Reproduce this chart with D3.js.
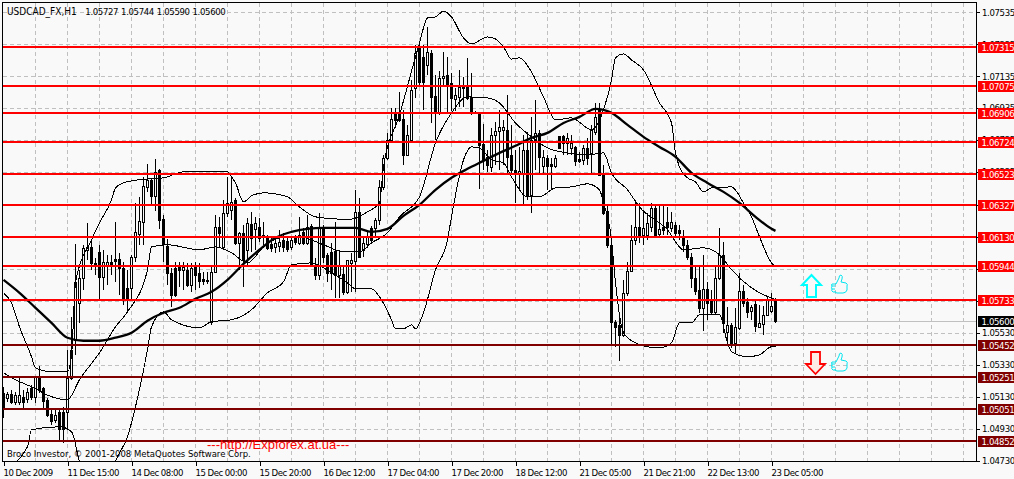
<!DOCTYPE html>
<html lang="en">
<head>
<meta charset="utf-8">
<title>USDCAD_FX,H1</title>
<script src="https://d3js.org/d3.v7.min.js"></script>
<style>
html, body { margin: 0; padding: 0; background: #f9f9f9; overflow: hidden; }
svg { display: block; }
text { font-family: "DejaVu Sans Condensed", "DejaVu Sans", sans-serif; font-size: 10px; fill: #000; }
.num { font-size: 9.5px; letter-spacing: -0.35px; }
.axis text { font-size: 9.5px; letter-spacing: -0.35px; }
.axis.time text { letter-spacing: -0.5px; }
.wick { stroke: #000; stroke-width: 1; shape-rendering: crispEdges; }
.body { stroke: #000; stroke-width: 1; shape-rendering: crispEdges; }
.thin { fill: none; stroke: #000; stroke-width: 1; shape-rendering: crispEdges; }
.thick { fill: none; stroke: #000; stroke-width: 2.3; stroke-linejoin: round; }
.grid { stroke: #c0c0c0; stroke-width: 1; stroke-dasharray: 4 3; shape-rendering: crispEdges; }
.axis path { display: none; }
.axis line { stroke: #000; shape-rendering: crispEdges; }
</style>
</head>
<body>
<script>
// prices are kept in points (1.05727 -> 105727)
var opens = [105154,105123,105148,105098,105098,105129,105116,105185,105129,105254,105185,105110,105023,104985,105035,105035,105035,105248,105485,105716,105873,106048,106066,105966,106035,105879,105954,105973,105991,105991,105935,105810,105810,106004,106148,106223,106441,106485,106385,106548,106241,106073,105904,105935,105941,105923,105923,105829,105941,105904,105866,105860,105598,105910,106191,106066,106279,106298,106360,106091,106154,106048,106210,106179,106191,106141,106129,106085,106066,106073,106110,106104,106066,106123,106091,106160,106091,106198,105954,105891,106191,106016,106035,106041,105891,105898,105785,105966,105979,106285,106048,106085,106185,106185,106235,106441,106623,106735,106904,106904,106866,106641,106735,107060,107310,107254,107204,107279,107010,106910,107123,107141,107091,106991,107004,107060,107079,107004,106910,106898,106710,106629,106566,106766,106791,106798,106798,106641,106548,106529,106529,106673,106391,106735,106779,106573,106623,106585,106573,106760,106760,106716,106685,106691,106616,106610,106685,106654,106785,106929,106516,106291,106079,105598,105579,105516,105779,105916,106110,106191,106141,106141,106191,106310,106148,106191,106223,106185,106204,106173,106135,106079,106004,105873,105798,105685,105804,105735,105660,105873,106016,105535,105579,105466,105560,105791,105723,105666,105710,105566,105585,105641,105666,105727];
var highs = [105191,105160,105173,105160,105248,105173,105185,105204,105254,105323,105191,105123,105060,105060,105048,105066,105423,105629,106085,105923,106079,106216,106110,105998,106079,106048,106016,106016,106223,106029,105973,105923,106016,106341,106379,106504,106585,106498,106616,106554,106266,106116,105935,105973,105973,105973,105966,105966,105973,105966,105910,105910,105954,106266,106254,106360,106504,106504,106373,106160,106204,106248,106285,106254,106248,106223,106141,106129,106123,106173,106154,106123,106129,106141,106254,106185,106266,106210,105998,106279,106204,106029,106091,106223,106048,105941,105985,106029,106423,106373,106123,106173,106198,106248,106485,106641,106779,106935,106935,107035,106923,106829,107110,107329,107348,107329,107441,107298,107141,107166,107285,107254,107154,107060,107173,107129,107248,107154,106916,106904,106835,106673,106810,106848,106923,106860,107016,106829,106673,106691,106766,106785,106879,106985,106798,106673,106641,106623,106641,106760,106766,106779,106766,106698,106660,106704,106748,106829,106966,106966,106579,106329,106110,105610,105641,105860,105973,106204,106360,106341,106298,106279,106341,106335,106329,106329,106316,106285,106223,106204,106173,106110,106029,105954,105954,106016,105848,105798,105954,106185,106098,105691,105591,105685,105904,105829,105748,105704,105735,105704,105698,105754,105779,105744];
var lows = [104998,105098,105085,105079,105079,105060,105091,105110,105091,105154,105060,105004,104954,104966,104848,104841,104923,105235,105391,105591,105798,105985,105923,105891,105735,105798,105829,105891,105848,105766,105704,105660,105735,105973,106079,106079,106410,106329,106291,106179,105973,105829,105691,105754,105816,105798,105816,105785,105798,105810,105829,105835,105579,105910,106066,106048,106254,106235,106079,105923,105816,105941,106035,106048,106098,106079,106048,106035,106029,106035,106035,106035,106048,106079,106079,106079,106079,105941,105860,105860,105966,105848,105798,105748,105748,105766,105773,105785,105785,105998,106004,106060,106091,106123,106204,106423,106610,106735,106810,106848,106579,106641,106735,106998,107079,106923,107141,106841,106735,106891,107079,106904,106916,106916,106941,106941,106985,106891,106904,106429,106548,106535,106535,106579,106548,106579,106516,106516,106341,106423,106329,106360,106279,106548,106516,106529,106423,106423,106560,106685,106641,106641,106641,106573,106591,106579,106579,106529,106766,106516,106266,106060,105454,105441,105354,105504,105760,105910,106079,106091,106079,106110,106160,106123,106123,106141,106141,106160,106123,106110,106035,105985,105810,105766,105654,105541,105610,105641,105641,105860,105529,105466,105435,105404,105548,105691,105623,105610,105535,105560,105516,105635,105654,105590];
var closes = [105060,105148,105098,105141,105141,105098,105160,105129,105254,105173,105104,105016,104979,105016,104929,104929,105248,105423,105848,105873,106060,106066,105966,105954,105879,105973,105973,105960,105979,105935,105748,105735,106004,106160,106229,106448,106485,106385,106535,106235,106085,105904,105766,105766,105923,105941,105829,105935,105891,105854,105854,105854,105910,106191,106154,106279,106341,106348,106091,106154,105985,106216,106123,106216,106123,106129,106060,106060,106091,106098,106066,106054,106110,106098,106141,106091,106191,105954,105891,106185,106004,105904,105904,105891,105954,105785,105985,105985,106285,106004,106091,106129,106110,106235,106441,106623,106735,106866,106860,106860,106641,106766,107048,107279,107098,107098,107285,107004,106910,107123,107135,107079,106998,107016,107066,107066,106998,106910,106904,106704,106610,106579,106766,106791,106816,106816,106629,106548,106529,106541,106673,106391,106735,106779,106629,106629,106573,106573,106623,106685,106716,106748,106716,106604,106604,106685,106623,106798,106879,106516,106279,106079,105598,105566,105516,105779,105916,106110,106191,106141,106185,106216,106310,106141,106179,106173,106191,106223,106154,106154,106079,106004,105873,105791,105685,105804,105716,105660,105873,106016,105591,105579,105466,105566,105791,105716,105660,105691,105573,105591,105641,105735,105698,105600];

var maValues = [105860,105779,105685,105591,105498,105479,105479,105498,105529,105604,105654,105685,105741,105785,105860,105960,106048,106123,106160,106179,106185,106185,106185,106160,106179,106260,106329,106423,106498,106554,106604,106654,106698,106748,106779,106841,106879,106929,106904,106829,106754,106691,106629,106529,106466,106410,106341,106254,106179,106166];
var maBars = d3.range(0, 193, 4).concat([193]);

var upperBars = [0,2,4,7,8,12,16,17,18,22,24,27,28,30,32,36,40,45,50,52,56,57,58,60,62,65,71,74,78,83,86,91,94,95,99,104,106,108,110,112,115,117,121,123,125,127,129,132,135,138,142,147,150,152,153,155,157,160,164,167,168,169,171,173,175,177,182,185,187,189,192,193];
var upperValues = [105779,105716,105566,105379,105310,105285,105285,105385,105841,106110,106216,106360,106435,106466,106479,106491,106498,106535,106535,106535,106535,106504,106466,106348,106385,106404,106379,106316,106254,106241,106235,106285,106341,106566,106891,107341,107498,107504,107541,107504,107373,107335,107379,107366,107316,107241,107248,107160,107004,106860,106873,106798,106923,107110,107248,107273,107235,107173,106966,106841,106654,106566,106498,106473,106410,106435,106441,106341,106254,106129,105966,105941];

var midBars = [0,3,7,12,16,19,24,28,31,36,37,41,49,53,57,61,65,69,74,80,85,89,92,96,99,104,108,112,116,121,124,128,132,136,141,146,150,152,156,159,166,170,175,179,182,187,193];
var midValues = [105279,105235,105191,105129,105110,105235,105404,105566,105660,105923,106066,106079,106048,106066,106029,105966,106066,106123,106129,106079,106035,106035,106091,106154,106254,106379,106716,106904,107004,106998,106966,106841,106754,106685,106654,106641,106654,106529,106423,106316,106173,106048,106060,106016,105923,105810,105735];

var lowerBars = [0,6,7,14,17,19,23,26,28,31,33,36,37,40,42,49,52,57,62,66,70,72,77,82,86,88,92,94,97,98,100,102,103,105,108,111,112,115,117,119,122,125,127,131,134,138,142,146,149,150,152,153,155,158,161,164,167,169,172,174,179,181,182,186,189,192,193];
var lowerValues = [104673,104816,104923,104941,104910,104723,104548,104548,104723,104879,105066,105423,105566,105660,105610,105560,105598,105610,105673,105779,105848,105954,105966,105904,105841,105804,105804,105754,105610,105554,105554,105579,105554,105654,105923,106110,106254,106610,106691,106685,106610,106591,106504,106379,106379,106435,106441,106460,106423,106341,106110,105841,105529,105466,105441,105435,105466,105591,105591,105641,105641,105466,105410,105379,105391,105441,105441];

var redLevels = [107315,107075,106906,106724,106523,106327,106130,105944,105733];
var darkLevels = [105452,105251,105051,104852];
var lastPrice = 105600;

var priceTicks = [107535,107335,107135,106935,106735,106535,106330,106130,105930,105730,105530,105330,105130,104930,104730];
var timeBars = [0,16,32,48,64,80,96,112,128,144,160,176,192];
var timeLabels = ["10 Dec 2009","11 Dec 15:00","14 Dec 08:00","15 Dec 00:00","15 Dec 20:00","16 Dec 12:00","17 Dec 04:00","17 Dec 20:00","18 Dec 12:00","21 Dec 05:00","21 Dec 21:00","22 Dec 13:00","23 Dec 05:00"];
var symbolName = "USDCAD_FX,H1";
var lastBarOhlc = "1.05727 1.05744 1.05590 1.05600";

var width = 1014, height = 479;
var left = 2.5, right = 976.5, top_ = 2.5, bottom = 461.5;

var svg = d3.select("body").append("svg")
    .attr("width", width)
    .attr("height", height);

var x = d3.scaleLinear().domain([0, 193]).range([3.5, 775.5]);
var y = d3.scaleLinear().domain([104730, 107535]).range([460.5, 12]);
var fmt = function(p) { return (p / 100000).toFixed(5); };

svg.append("defs").append("clipPath").attr("id", "plot")
    .append("rect").attr("x", left).attr("y", top_).attr("width", right - left).attr("height", bottom - top_);

var plot = svg.append("g").attr("clip-path", "url(#plot)");

// grid
var gridX = d3.range(8, 241, 8);
plot.selectAll(".gx").data(gridX).enter().append("line")
    .attr("class", "grid")
    .attr("x1", function(d) { return x(d); }).attr("x2", function(d) { return x(d); })
    .attr("y1", top_).attr("y2", bottom);
plot.selectAll(".gy").data(priceTicks).enter().append("line")
    .attr("class", "grid")
    .attr("x1", left).attr("x2", right)
    .attr("y1", function(d) { return Math.round(y(d)) + 0.5; })
    .attr("y2", function(d) { return Math.round(y(d)) + 0.5; });

// last price line
plot.append("line")
    .attr("x1", left).attr("x2", right)
    .attr("y1", Math.round(y(lastPrice)) + 0.5).attr("y2", Math.round(y(lastPrice)) + 0.5)
    .attr("stroke", "#c0c0c0").attr("shape-rendering", "crispEdges");

// candles
var idx = d3.range(opens.length);
plot.selectAll(".wick").data(idx).enter().append("line")
    .attr("class", "wick")
    .attr("x1", function(i) { return x(i); }).attr("x2", function(i) { return x(i); })
    .attr("y1", function(i) { return y(highs[i]); })
    .attr("y2", function(i) { return y(lows[i]); });
plot.selectAll(".body").data(idx).enter().append("rect")
    .attr("class", "body")
    .attr("x", function(i) { return x(i) - 1; })
    .attr("width", 2)
    .attr("y", function(i) { return Math.round(y(Math.max(opens[i], closes[i]))) + 0.5; })
    .attr("height", function(i) { return Math.max(1, Math.round(Math.abs(y(opens[i]) - y(closes[i])))); })
    .attr("fill", function(i) { return closes[i] >= opens[i] ? "#f9f9f9" : "#000"; });

// bands and moving average
function drawLine(bars, vals, cls) {
    var line = d3.line()
        .curve(d3.curveMonotoneX)
        .x(function(d) { return x(d); })
        .y(function(d, i) { return y(vals[i]); });
    plot.append("path").attr("class", cls).attr("d", line(bars));
}
drawLine(upperBars, upperValues, "thin");
drawLine(midBars, midValues, "thin");
drawLine(lowerBars, lowerValues, "thin");
drawLine(maBars, maValues, "thick");

// level lines
function drawLevels(levels, color) {
    plot.selectAll(".lv" + color.slice(1)).data(levels).enter().append("line")
        .attr("x1", left).attr("x2", right)
        .attr("y1", function(d) { return y(d); }).attr("y2", function(d) { return y(d); })
        .attr("stroke", color).attr("stroke-width", 2).attr("shape-rendering", "crispEdges");
}
drawLevels(redLevels, "#ff0000");
drawLevels(darkLevels, "#800000");

// frame
svg.append("rect")
    .attr("x", left).attr("y", top_).attr("width", right - left).attr("height", bottom - top_)
    .attr("fill", "none").attr("stroke", "#000").attr("shape-rendering", "crispEdges");

// axes
var axisR = d3.axisRight(y).tickValues(priceTicks).tickFormat(fmt).tickSize(3).tickPadding(2.5);
svg.append("g").attr("class", "axis").attr("transform", "translate(" + right + ",0)").call(axisR);

var axisB = d3.axisBottom(x).tickValues(timeBars)
    .tickFormat(function(d, i) { return timeLabels[i]; }).tickSize(4).tickPadding(1);
var gb = svg.append("g").attr("class", "axis time").attr("transform", "translate(0," + bottom + ")").call(axisB);
gb.selectAll("text").attr("text-anchor", "start").attr("dx", "-0.5").attr("dy", "0.95em");

// price tags
function drawTags(levels, color) {
    var g = svg.append("g");
    g.selectAll("rect").data(levels).enter().append("rect")
        .attr("x", 978).attr("width", 36).attr("height", 11)
        .attr("y", function(d) { return Math.round(y(d)) - 5; })
        .attr("fill", color);
    g.selectAll("text").data(levels).enter().append("text")
        .attr("class", "num")
        .attr("x", 981.5).attr("y", function(d) { return Math.round(y(d)) + 4; })
        .style("fill", "#fff")
        .text(fmt);
}
drawTags(redLevels, "#ff0000");
drawTags(darkLevels, "#800000");
drawTags([lastPrice], "#000");

// captions
svg.append("text").attr("x", 7).attr("y", 14.5).text(symbolName);
svg.append("text").attr("class", "num").attr("x", 85.3).attr("y", 14.5)
    .style("word-spacing", "0.5px").text(lastBarOhlc);
svg.append("text").attr("x", 7).attr("y", 457).style("font-size", "9.45px")
    .text("Broco Investor, © 2001-2008 MetaQuotes Software Corp.");
svg.append("text").attr("x", 207).attr("y", 449)
    .style("font-family", "'Liberation Sans', sans-serif").style("font-size", "13px").style("fill", "#ff0000")
    .text("---http://Expforex.at.ua---");

// arrows and thumbs
var arrow = "M9.5 0L19 10L14 10L14 22L5 22L5 10L0 10Z";
var thumb = "M5 9L8 3Q8 0 10 0Q12 1 11 4L10 7L15 8Q17 9 16 11L16 15Q15 18 12 18L6 18Q4 18 4 16M5 9L1 9Q0 10 1 11L4 11M1 11Q0 13 1 14L4 14M1 14Q0 16 2 17L4 17";
svg.append("path").attr("d", arrow).attr("transform", "translate(802,275)")
    .attr("fill", "none").attr("stroke", "#00ffff").attr("stroke-width", 2);
svg.append("path").attr("d", arrow).attr("transform", "translate(825,374) rotate(180)")
    .attr("fill", "#fdece6").attr("stroke", "#ff0000").attr("stroke-width", 1.8);
svg.selectAll(".thumb").data([275, 353]).enter().append("path")
    .attr("d", thumb)
    .attr("transform", function(d) { return "translate(831," + d + ")"; })
    .attr("fill", "none").attr("stroke", "#00e5f0").attr("stroke-width", 1);
</script>
</body>
</html>
